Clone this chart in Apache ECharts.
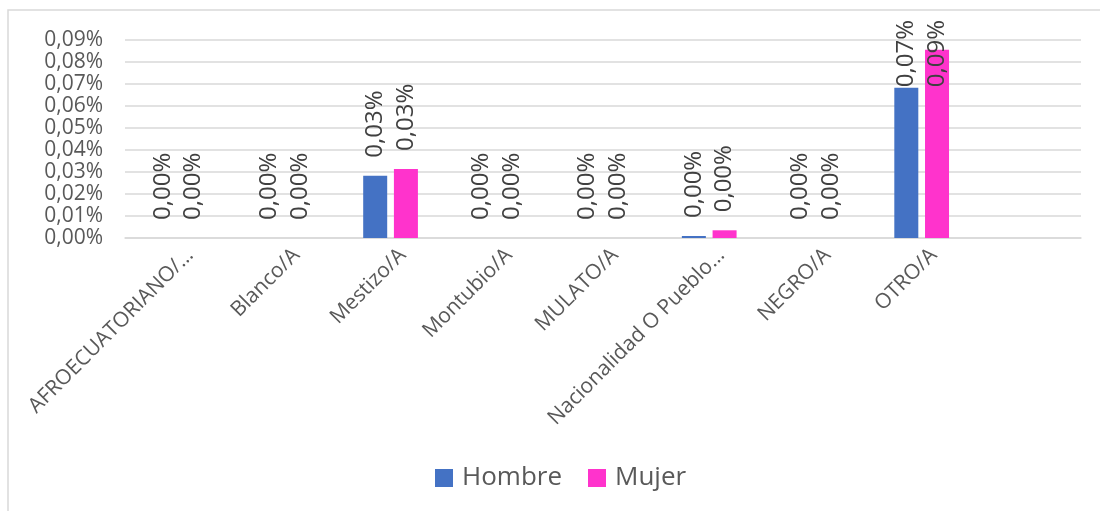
<!DOCTYPE html>
<html>
<head>
<meta charset="utf-8">
<script src="https://cdn.jsdelivr.net/npm/echarts@6/dist/echarts.min.js"></script>
<style>
  html, body { margin: 0; padding: 0; background: #fff; }
  #chart { width: 1100px; height: 511px; }
</style>
</head>
<body>
<div id="chart"></div>
<script>
// categories (Excel truncated the long names) + one empty slot at the end
const categories = ['AFROECUATORIANO/…', 'Blanco/A', 'Mestizo/A', 'Montubio/A', 'MULATO/A', 'Nacionalidad O Pueblo…', 'NEGRO/A', 'OTRO/A', '']
// values in percent
const hombre = [0, 0, 0.0283, 0, 0, 0.0009, 0, 0.0683, null]
const mujer = [0, 0, 0.0314, 0, 0, 0.0035, 0, 0.0856, null]
const yTicks = { min: 0, max: 0.09, interval: 0.01 }

const FONT = '"Open Sans", "Noto Sans", sans-serif'
const pct = v => v.toFixed(2).replace('.', ',') + '%'

const chart = echarts.init(document.getElementById('chart'), null, { renderer: 'canvas' })

function barLabel() {
  return {
    show: true,
    position: 'top',
    rotate: 90,
    align: 'left',
    verticalAlign: 'middle',
    distance: 18,
    color: '#404040',
    fontFamily: FONT,
    fontSize: 24,
    formatter: p => pct(p.value)
  }
}

chart.setOption({
  animation: false,
  textStyle: { fontFamily: FONT },
  graphic: [{
    type: 'rect',
    shape: { x: 8, y: 10, width: 1200, height: 600 },
    style: { fill: 'none', stroke: '#d9d9d9', lineWidth: 1.5 },
    silent: true
  }],
  grid: { left: 125, right: 19, top: 40, bottom: 273 },
  legend: {
    data: ['Hombre', 'Mujer'],
    left: 430,
    top: 460,
    itemWidth: 18,
    itemHeight: 18,
    itemGap: 26,
    icon: 'rect',
    textStyle: { color: '#595959', fontSize: 26, fontFamily: FONT, padding: [0, 0, 0, 4] }
  },
  xAxis: {
    type: 'category',
    data: categories,
    axisLine: { lineStyle: { color: '#d9d9d9', width: 1.5 } },
    axisTick: { show: false },
    axisLabel: {
      interval: 0,
      rotate: 45,
      margin: 26,
      padding: [0, -17, 0, 0],
      color: '#595959',
      fontSize: 21,
      fontFamily: FONT
    }
  },
  yAxis: {
    type: 'value',
    min: yTicks.min,
    max: yTicks.max,
    interval: yTicks.interval,
    axisLine: { show: false },
    axisTick: { show: false },
    splitLine: { lineStyle: { color: '#d9d9d9', width: 1.5 } },
    axisLabel: {
      color: '#595959',
      fontSize: 21,
      fontFamily: FONT,
      margin: 22,
      formatter: v => pct(v)
    }
  },
  series: [{
    name: 'Hombre',
    type: 'bar',
    data: hombre,
    barWidth: 24,
    barGap: '28%',
    itemStyle: { color: '#4472C4' },
    label: barLabel()
  }, {
    name: 'Mujer',
    type: 'bar',
    data: mujer,
    barWidth: 24,
    itemStyle: { color: '#FF33CC' },
    label: barLabel()
  }],
  // keep labels inside the chart area, like Excel does for the tall bars
  labelLayout: params => {
    const r = params.labelRect
    if (r.y < 20) {
      return { y: 20 + r.height }
    }
  }
})
</script>
</body>
</html>
